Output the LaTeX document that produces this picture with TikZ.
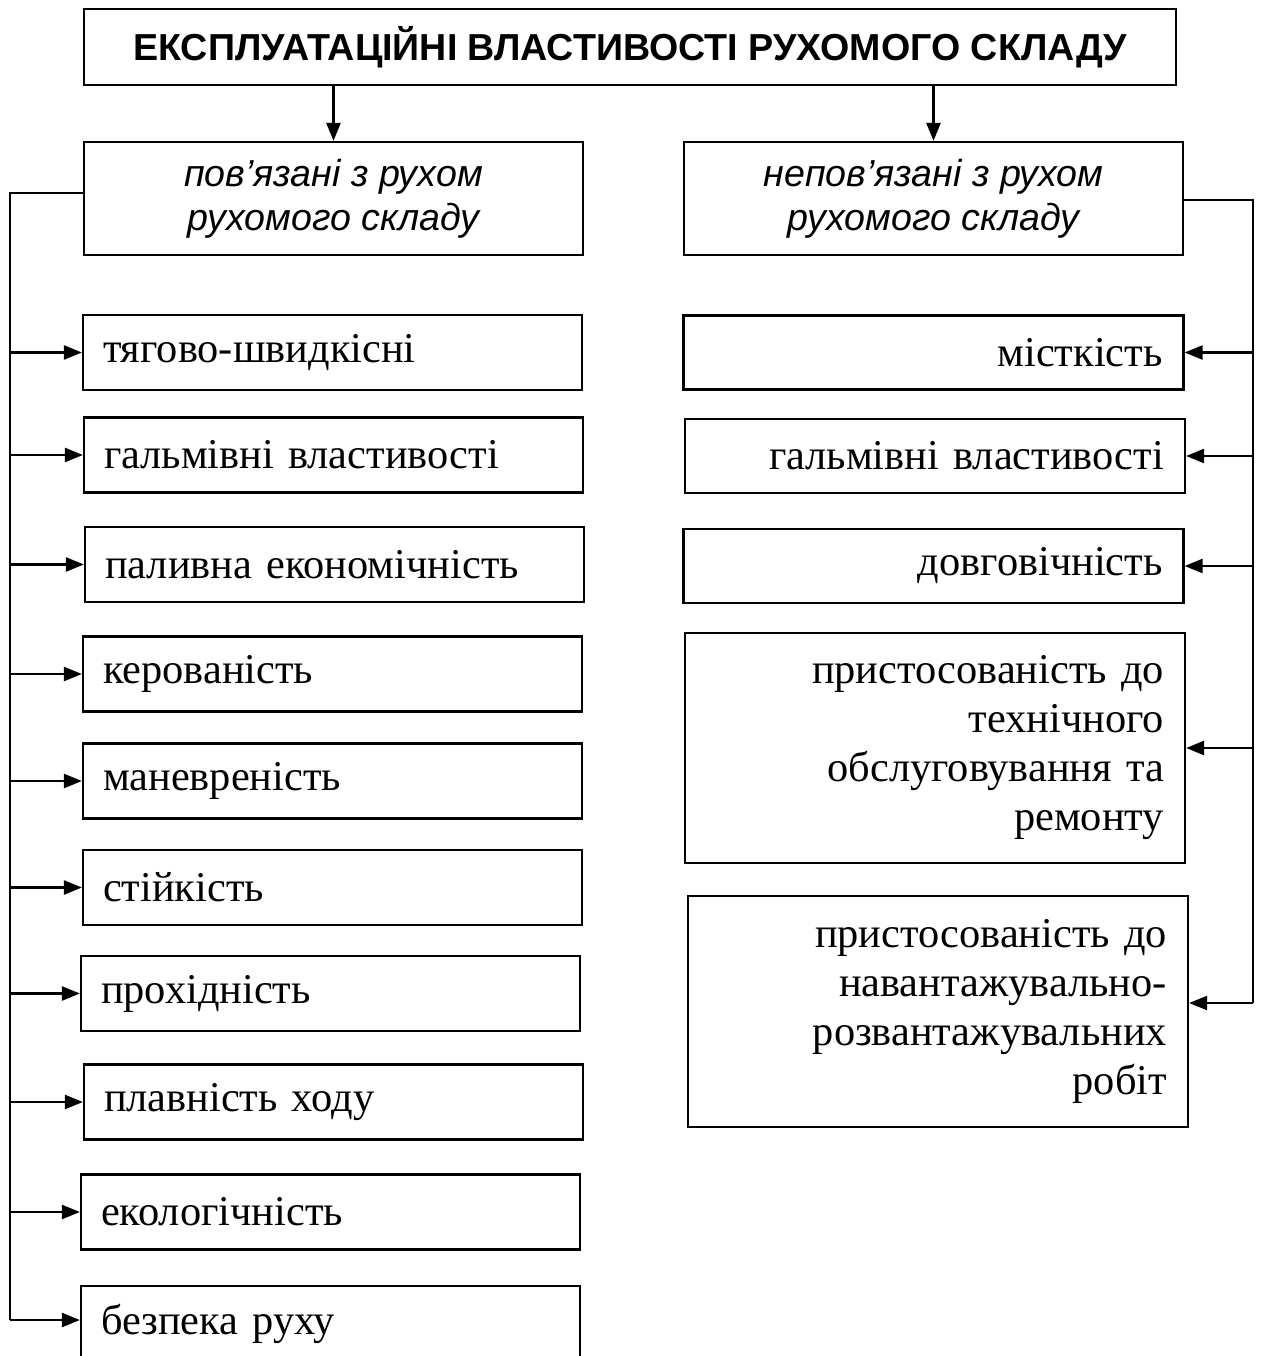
\documentclass[tikz,border=0pt]{standalone}
\usepackage{fontspec}
\setmainfont{Liberation Serif}
\newfontfamily\sansf{Liberation Sans}
\usetikzlibrary{arrows.meta}
\begin{document}
\begin{tikzpicture}[x=1pt,y=-1pt,
  box/.style={draw, line width=2.2pt, inner ysep=0pt},
  titlebox/.style={box, minimum width=1092pt, minimum height=76pt,
    font=\sansf\bfseries\fontsize{37.6}{44}\selectfont},
  catbox/.style={box, minimum width=499pt, minimum height=113pt, align=center,
    font=\sansf\itshape\fontsize{37.6}{44}\selectfont},
  litem/.style={box, text width=459pt, inner xsep=20pt, minimum height=75pt,
    align=left, font=\fontsize{42.4}{49}\selectfont},
  ritem/.style={box, text width=458pt, inner xsep=21pt, minimum height=74pt,
    align=right, font=\fontsize{42.4}{49}\selectfont},
  conn/.style={line width=2.4pt},
  arr/.style={line width=2.4pt, -{Triangle[length=18pt,width=14pt]}}
]
\useasboundingbox (0,0) rectangle (1262,1356);

\node[titlebox] (title) at (630,47) {ЕКСПЛУАТАЦІЙНІ ВЛАСТИВОСТІ РУХОМОГО СКЛАДУ};

\node[catbox] (catL) at (333.5,198.5) {пов’язані з рухом\\рухомого складу};
\node[catbox] (catR) at (933.5,198.5) {непов’язані з рухом\\рухомого складу};

\draw[arr] (title.south -| catL.north) -- (catL.north);
\draw[arr] (title.south -| catR.north) -- (catR.north);

% left items
\node[litem] (L1) at (332.5,352.5) {тягово-швидкісні};
\node[litem] (L2) at (333.5,455) {гальмівні властивості};
\node[litem] (L3) at (334.5,564.5) {паливна економічність};
\node[litem] (L4) at (332.5,674) {керованість};
\node[litem] (L5) at (332.5,781) {маневреність};
\node[litem] (L6) at (332.5,887.5) {стійкість};
\node[litem] (L7) at (330.5,993.5) {прохідність};
\node[litem] (L8) at (333.5,1102) {плавність ходу};
\node[litem] (L9) at (330.5,1212) {екологічність};
\node[litem] (L10) at (330.5,1323.5) {безпека руху};

% right items
\node[ritem] (R1) at (933.5,352.5) {місткість};
\node[ritem] (R2) at (935,456) {гальмівні властивості};
\node[ritem] (R3) at (933.5,566) {довговічність};
\node[ritem, minimum height=230pt] (R4) at (935,748) {пристосованість до\\технічного\\обслуговування та\\ремонту};
\node[ritem, minimum height=231pt] (R5) at (938,1011.5) {пристосованість до\\навантажувально-\\розвантажувальних\\робіт};

% left bus
\coordinate (lbot) at (10,1320);
\draw[conn] ([yshift=5.5pt]catL.west) -| (lbot);
\foreach \n in {L1,L2,L3,L4,L5,L6,L7,L8,L9}
  \draw[arr] (lbot |- \n.west) -- (\n.west);
\draw[arr] (lbot) -- (lbot -| L10.west);

% right bus
\coordinate (rbot) at (1253,1003);
\draw[conn] ([yshift=-1.5pt]catR.east) -| (rbot);
\foreach \n in {R1,R2,R3,R4}
  \draw[arr] (rbot |- \n.east) -- (\n.east);
\draw[arr] (rbot) -- (rbot -| R5.east);
\end{tikzpicture}
\end{document}
